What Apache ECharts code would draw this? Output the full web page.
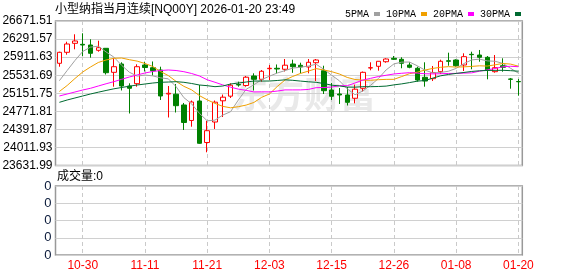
<!DOCTYPE html>
<html>
<head>
<meta charset="utf-8">
<script src="https://cdn.jsdelivr.net/npm/echarts@6/dist/echarts.min.js"></script>
<style>
  html, body { margin: 0; padding: 0; background: #fff; }
  #main { width: 578px; height: 276px; }
</style>
</head>
<body>
<div id="main"></div>
<script>
// 日期 (交易日)
var dates = ['10-27','10-28','10-29','10-30','10-31','11-03','11-04','11-05','11-06','11-07',
  '11-10','11-11','11-12','11-13','11-14','11-17','11-18','11-19','11-20','11-21',
  '11-24','11-25','11-26','11-27','11-28','12-01','12-02','12-03','12-04','12-05',
  '12-08','12-09','12-10','12-11','12-12','12-15','12-16','12-17','12-18','12-19',
  '12-22','12-23','12-24','12-26','12-29','12-30','12-31','01-02','01-05','01-06',
  '01-07','01-08','01-09','01-12','01-13','01-14','01-15','01-16','01-19','01-20'];

var opens = [25782,26013,26202,26181,26167,26055,26097,25592,25767,25304,
  25353,25746,25689,25641,25136,25132,24905,24579,24989,24116,
  24547,24993,25090,25336,25315,25515,25445,25668,25677,25656,
  25767,25740,25704,25794,25626,25220,25136,25115,25046,25256,
  25683,25719,25815,25887,25866,25746,25677,25487,25458,25605,
  25836,25851,25746,25971,25956,25908,25605,25731,25452,25399];
var closes = [26013,26188,26251,26167,25992,26110,25584,25710,25304,25256,
  25710,25693,25626,25094,25151,24890,24537,24968,24099,24364,
  24964,25069,25321,25325,25489,25445,25614,25677,25662,25742,
  25710,25704,25803,25851,25205,25088,25115,24961,25237,25592,
  25689,25824,25872,25866,25782,25698,25430,25409,25584,25824,
  25824,25731,25921,25963,25908,25641,25689,25698,25445,25393];
var lows = [25710,25963,26076,25935,25900,26026,25546,25290,25210,24726,
  25290,25609,25525,25010,24642,24747,24379,24448,24088,23910,
  24400,24652,25052,25290,25290,25210,25395,25430,25567,25609,
  25582,25571,25571,25409,25136,25010,24926,24894,24940,25189,
  25635,25626,25794,25851,25677,25677,25395,25290,25409,25557,
  25731,25710,25620,25656,25815,25445,25584,25605,25248,25100];
var highs = [26026,26236,26392,26413,26287,26257,26097,25887,25803,25361,
  25761,25815,25820,25710,25304,25346,24947,24999,25325,24568,
  24999,25125,25361,25395,25515,25571,25641,25746,25757,25872,
  25858,25794,25872,25872,25731,25367,25262,25283,25332,25609,
  25803,25824,25887,25935,25908,25803,25710,25803,25725,25858,
  26005,25866,25992,26026,26062,25935,25956,25887,25473,25452];

// 窗口之前的均线值
var ma5Head = [25416,25630,25841,26030];
var ma10Head = [25189,25315,25462,25599,25704,25799,25851,25887,25893];
var ma20Head = [25094,25136,25178,25220,25256,25304,25351,25395,25445,25494,
  25536,25578,25609,25630,25641,25630,25605,25567,25515];
var ma30Head = [24961,25010,25052,25094,25136,25174,25210,25245,25273,25300,
  25325,25346,25367,25382,25388,25395,25382,25357,25325,25311,
  25290,25304,25346,25367,25388,25409,25409,25409,25420];

var volumes = [0,0,0,0,0,0,0,0,0,0,0,0,0,0,0,0,0,0,0,0,
  0,0,0,0,0,0,0,0,0,0,0,0,0,0,0,0,0,0,0,0,
  0,0,0,0,0,0,0,0,0,0,0,0,0,0,0,0,0,0,0,0];

var yMin = 23631.99, yMax = 26671.51, yStep = 379.94;

function calcMA(n, head) {
  return closes.map(function (c, i) {
    if (i < n - 1) return head[i];
    var s = 0;
    for (var k = i - n + 1; k <= i; k++) s += closes[k];
    return +(s / n).toFixed(2);
  });
}

var kData = dates.map(function (d, i) {
  return [opens[i], closes[i], lows[i], highs[i]];
});

function labelDay(idx) { return (idx - 3) % 8 === 0; }

var myChart = echarts.init(document.getElementById('main'));
var font = "'Liberation Sans', 'Noto Sans CJK SC'";

var option = {
  animation: false,
  backgroundColor: '#fff',
  textStyle: { fontFamily: font },
  legend: {
    left: 340, top: 4,
    align: 'right',
    icon: 'rect',
    itemWidth: 6, itemHeight: 4, itemGap: 6,
    selectedMode: false,
    lineStyle: { width: 4 },
    textStyle: { fontFamily: "'Liberation Mono'", fontSize: 10, color: '#000' },
    data: ['5PMA', '10PMA', '20PMA', '30PMA']
  },
  graphic: [
    { type: 'text', x: 232, y: 94, z: -10, silent: true,
      style: { text: '东方财富', font: 'bold 36px "Noto Sans CJK SC"', fill: '#e9e9e9', verticalAlign: 'middle' } },
    { type: 'text', x: 55, y: 10,
      style: { text: '小型纳指当月连续[NQ00Y] 2026-01-20 23:49', font: "12px " + font, fill: '#000', verticalAlign: 'middle' } },
    { type: 'text', x: 57, y: 177,
      style: { text: '成交量:0', font: "12px " + font, fill: '#000', verticalAlign: 'middle' } }
  ],
  grid: [
    { left: 55.5, right: 55.7, top: 21, height: 144.5, show: true, borderColor: '#999', borderWidth: 1.5, outerBoundsMode: 'none' },
    { left: 55.5, right: 55.7, top: 186, height: 69, show: true, borderColor: '#999', borderWidth: 1.5, outerBoundsMode: 'none' }
  ],
  xAxis: [
    { type: 'category', gridIndex: 0, data: dates, boundaryGap: true,
      axisLine: { show: false }, axisTick: { show: false }, axisLabel: { show: false },
      splitLine: { show: true, interval: labelDay, alignWithLabel: true, lineStyle: { color: '#cacaca', type: [4, 3] } } },
    { type: 'category', gridIndex: 1, data: dates, boundaryGap: true,
      axisLine: { show: false }, axisTick: { show: false },
      axisLabel: { interval: labelDay, color: '#f00', fontSize: 12, margin: 5 },
      splitLine: { show: true, interval: labelDay, alignWithLabel: true, lineStyle: { color: '#cacaca', type: [4, 3] } } }
  ],
  yAxis: [
    { type: 'value', gridIndex: 0, min: yMin, max: yMax, interval: yStep, scale: true,
      axisLine: { show: false }, axisTick: { show: false },
      axisLabel: { color: '#000', fontSize: 12, margin: 3, formatter: function (v) { return v.toFixed(2); } },
      splitLine: { lineStyle: { color: '#d0d0d0' } } },
    { type: 'value', gridIndex: 1, min: 0, max: 4, interval: 1,
      axisLine: { show: false }, axisTick: { show: false },
      axisLabel: { color: '#0a1a3a', fontSize: 13, margin: 4, formatter: function () { return '0'; } },
      splitLine: { lineStyle: { color: '#d0d0d0' } } }
  ],
  series: [
    { name: 'K', type: 'candlestick', xAxisIndex: 0, yAxisIndex: 0, data: kData, barWidth: 5,
      itemStyle: { color: '#fff', color0: '#008000', borderColor: '#ff0000', borderColor0: '#008000', borderWidth: 1 } },
    { name: '5PMA', type: 'line', data: calcMA(5, ma5Head), symbol: 'none', color: '#a0a0a0', lineStyle: { width: 1 } },
    { name: '10PMA', type: 'line', data: calcMA(10, ma10Head), symbol: 'none', color: '#f0a000', lineStyle: { width: 1 } },
    { name: '20PMA', type: 'line', data: calcMA(20, ma20Head), symbol: 'none', color: '#ff00ff', lineStyle: { width: 1 } },
    { name: '30PMA', type: 'line', data: calcMA(30, ma30Head), symbol: 'none', color: '#006a31', lineStyle: { width: 1 } },
    { name: '成交量', type: 'bar', xAxisIndex: 1, yAxisIndex: 1, data: volumes }
  ]
};
myChart.setOption(option);
</script>
</body>
</html>
